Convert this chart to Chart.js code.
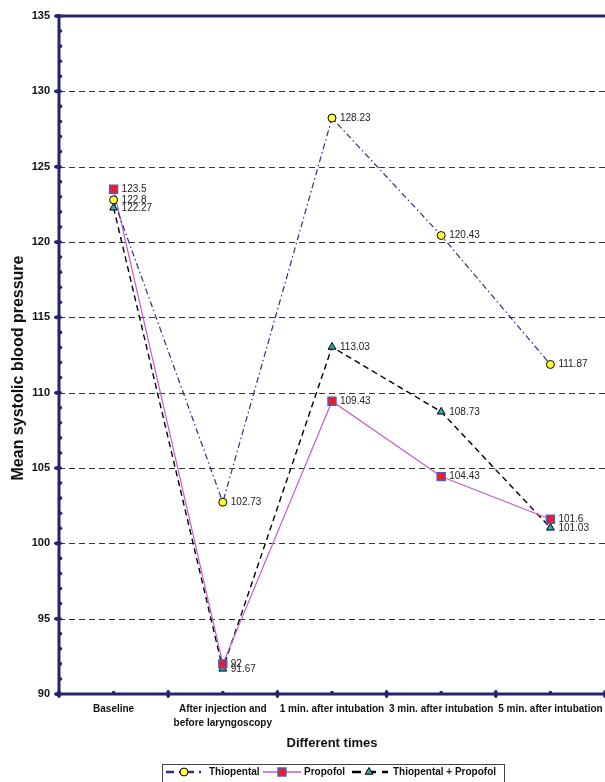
<!DOCTYPE html>
<html>
<head>
<meta charset="utf-8">
<script src="https://cdn.jsdelivr.net/npm/chart.js@4/dist/chart.umd.min.js"></script>
<style>
  html, body { margin: 0; padding: 0; background: #fff; overflow: hidden; }
  #wrap { width: 605px; height: 782px; }
</style>
</head>
<body>
<div id="wrap"><canvas id="c" width="605" height="782"></canvas></div>
<script>
// data
const categories = ['Baseline', ['After injection and', 'before laryngoscopy'], '1 min. after intubation', '3 min. after intubation', '5 min. after intubation'];
const seriesNames = ['Thiopental', 'Propofol', 'Thiopental + Propofol'];
const thiopental = [122.8, 102.73, 128.23, 120.43, 111.87];
const propofol = [123.5, 92, 109.43, 104.43, 101.6];
const combined = [122.27, 91.67, 113.03, 108.73, 101.03];
const yMin = 90, yMax = 135, yStep = 5;
const yTitle = 'Mean systolic blood pressure';

const FONT = "'Liberation Sans', Arial, sans-serif";
const NAVY = '#25256f';

// dashed grid, thick navy frame with dotted ticks
const framePlugin = {
  id: 'frame',
  beforeDatasetsDraw(chart) {
    const { ctx, chartArea, scales } = chart;
    const { left, right, top, bottom } = chartArea;
    const y = scales.y, x = scales.x;
    ctx.save();
    ctx.strokeStyle = '#333';
    ctx.lineWidth = 1;
    ctx.setLineDash([6, 4]);
    for (let v = yMin + yStep; v < yMax; v += yStep) {
      const py = Math.round(y.getPixelForValue(v)) + 0.5;
      ctx.beginPath(); ctx.moveTo(left, py); ctx.lineTo(right, py); ctx.stroke();
    }
    ctx.setLineDash([]);
    ctx.strokeStyle = NAVY;
    ctx.fillStyle = NAVY;
    ctx.lineWidth = 3;
    ctx.beginPath();
    ctx.moveTo(right, top); ctx.lineTo(left, top); ctx.lineTo(left, bottom); ctx.lineTo(right, bottom);
    ctx.stroke();
    // y ticks
    for (let v = yMin; v <= yMax; v++) {
      const py = y.getPixelForValue(v);
      if (v % yStep === 0) {
        ctx.beginPath(); ctx.ellipse(left - 1, py, 4, 2, 0, 0, Math.PI * 2); ctx.fill();
      } else {
        ctx.beginPath(); ctx.arc(left + 1.5, py, 1.8, 0, Math.PI * 2); ctx.fill();
      }
    }
    // x ticks
    const n = categories.length;
    const w = (right - left) / n;
    for (let i = 0; i <= n; i++) {
      const px = left + i * w;
      ctx.beginPath(); ctx.ellipse(px, bottom, 2, 4, 0, 0, Math.PI * 2); ctx.fill();
    }
    for (let i = 0; i < n; i++) {
      const px = x.getPixelForValue(i);
      ctx.beginPath(); ctx.arc(px, bottom - 1.5, 1.8, 0, Math.PI * 2); ctx.fill();
    }
    // category labels (drawn here so the last one may run to the edge)
    ctx.fillStyle = '#111';
    ctx.font = 'bold 10px ' + FONT;
    ctx.textAlign = 'center';
    ctx.textBaseline = 'middle';
    categories.forEach((lab, i) => {
      const lines = Array.isArray(lab) ? lab : [lab];
      lines.forEach((t, j) => ctx.fillText(t, x.getPixelForValue(i), bottom + 15 + j * 14));
    });
    // y title
    ctx.save();
    ctx.translate(19, 368);
    ctx.rotate(-Math.PI / 2);
    ctx.font = 'bold 16px ' + FONT;
    ctx.fillStyle = '#111';
    ctx.textAlign = 'center';
    ctx.textBaseline = 'middle';
    ctx.fillText(yTitle, 0, 0);
    ctx.restore();
    ctx.restore();
  },
  afterDraw(chart) {
    const { ctx } = chart;
    ctx.save();
    // value labels
    ctx.font = '10px ' + FONT;
    ctx.fillStyle = '#222';
    ctx.textBaseline = 'middle';
    ctx.textAlign = 'left';
    chart.data.datasets.forEach((ds, di) => {
      chart.getDatasetMeta(di).data.forEach((pt, i) => {
        ctx.fillText(String(ds.data[i]), pt.x + 8, pt.y);
      });
    });
    // legend box
    const lx = 162, lr = 504, ly = 764, cy = 772;
    ctx.strokeStyle = '#444';
    ctx.lineWidth = 1;
    ctx.strokeRect(lx + 0.5, ly + 0.5, lr - lx, 40);
    const items = [
      { x0: 166, x1: 205, mx: 184, tx: 209 },
      { x0: 263, x1: 301, mx: 282, tx: 304 },
      { x0: 352, x1: 388, mx: 369, tx: 393 },
    ];
    ctx.font = 'bold 10px ' + FONT;
    items.forEach((it, di) => {
      const ds = chart.data.datasets[di];
      ctx.save();
      ctx.strokeStyle = ds.borderColor;
      ctx.lineWidth = di === 1 ? 1.3 : 2.5;
      ctx.setLineDash(di === 0 ? [8, 5, 2, 5] : (di === 2 ? [9, 6] : []));
      ctx.beginPath(); ctx.moveTo(it.x0, cy); ctx.lineTo(it.x1, cy); ctx.stroke();
      ctx.setLineDash([]);
      ctx.fillStyle = ds.pointBackgroundColor;
      ctx.strokeStyle = ds.pointBorderColor;
      ctx.lineWidth = ds.pointBorderWidth;
      Chart.helpers.drawPoint(ctx, { pointStyle: ds.pointStyle, radius: ds.pointRadius, rotation: 0, borderWidth: ds.pointBorderWidth }, it.mx, cy);
      ctx.restore();
      ctx.fillStyle = '#111';
      ctx.textBaseline = 'middle';
      ctx.fillText(seriesNames[di], it.tx, cy);
    });
    ctx.restore();
  }
};

new Chart(document.getElementById('c'), {
  type: 'line',
  data: {
    labels: categories,
    datasets: [
      {
        label: seriesNames[0], data: thiopental,
        borderColor: '#2e2e8c', borderWidth: 1.2, borderDash: [6, 3, 1.5, 3],
        pointStyle: 'circle', pointRadius: 4, pointBackgroundColor: '#ffff33',
        pointBorderColor: '#000', pointBorderWidth: 1, tension: 0,
      },
      {
        label: seriesNames[1], data: propofol,
        borderColor: '#c85ac8', borderWidth: 1.2,
        pointStyle: 'rect', pointRadius: 5.6, pointBackgroundColor: '#ee1c24',
        pointBorderColor: '#4e5bbf', pointBorderWidth: 1.5, tension: 0,
      },
      {
        label: seriesNames[2], data: combined,
        borderColor: '#000', borderWidth: 1.4, borderDash: [6, 4],
        pointStyle: 'triangle', pointRadius: 4.5, pointBackgroundColor: '#2fa9a9',
        pointBorderColor: '#000', pointBorderWidth: 1, tension: 0,
      },
    ],
  },
  options: {
    responsive: false,
    animation: false,
    devicePixelRatio: 1,
    layout: { autoPadding: false, padding: { top: 16, right: -2, left: 0, bottom: 0 } },
    plugins: { legend: { display: false }, tooltip: { enabled: false } },
    scales: {
      x: {
        offset: true,
        grid: { display: false, drawTicks: false },
        border: { display: false },
        ticks: { display: false },
        title: { display: true, text: 'Different times', color: '#111', padding: { top: 0, bottom: 31 }, font: { family: FONT, size: 13, weight: 'bold', lineHeight: 1.2 } },
        afterFit(s) { s.height = 88; },
      },
      y: {
        min: yMin, max: yMax,
        grid: { display: false, drawTicks: false },
        border: { display: false },
        ticks: { stepSize: yStep, padding: 9, color: '#111', font: { family: FONT, size: 11, weight: 'bold' } },
        afterFit(s) { s.width = 59; },
      },
    },
  },
  plugins: [framePlugin],
});
</script>
</body>
</html>
